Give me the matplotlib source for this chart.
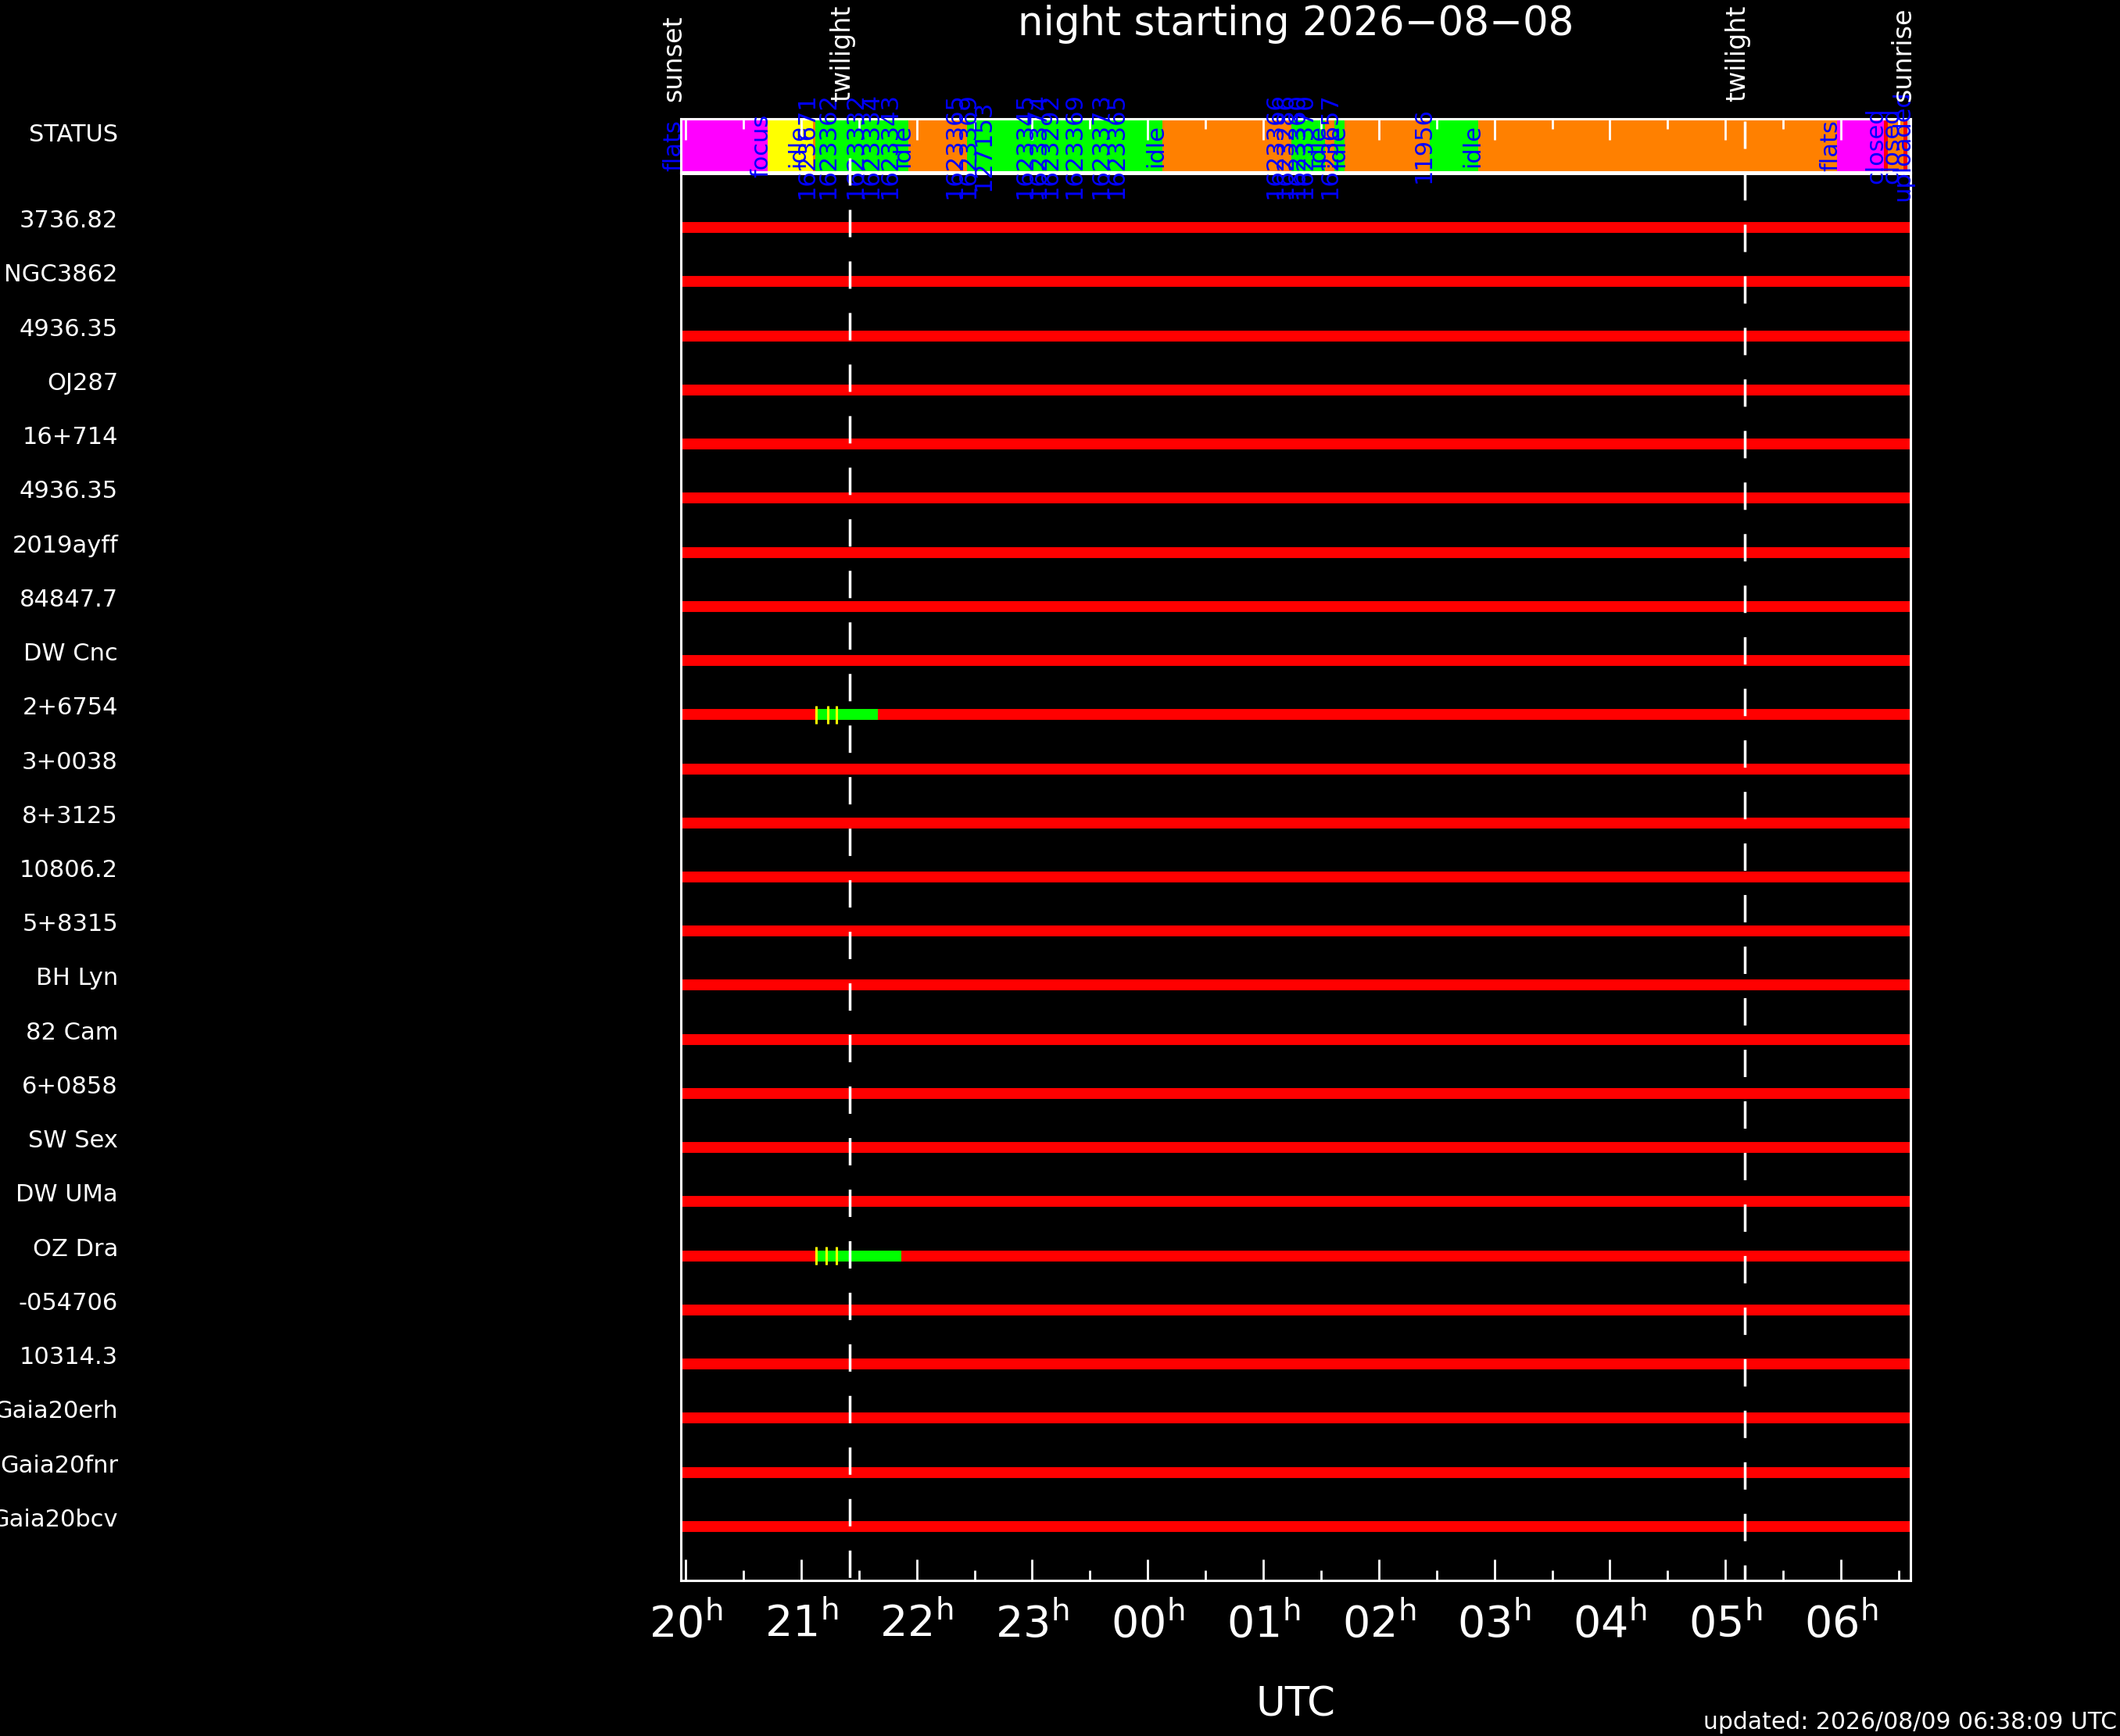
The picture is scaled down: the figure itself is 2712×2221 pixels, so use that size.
import matplotlib
matplotlib.use("Agg")
import matplotlib.pyplot as plt
from matplotlib.transforms import blended_transform_factory
from matplotlib.lines import Line2D
from matplotlib.ticker import FixedLocator

plt.rcParams['font.family'] = ['DejaVu Sans']
plt.rcParams['lines.scale_dashes'] = False

# ---------------- data ----------------
night_title = "night starting 2026\u221208\u221208"
updated_text = "updated: 2026/08/09 06:38:09 UTC"

# times in hours UTC (after midnight written as 24+)
sunset = 19.959
sunrise = 30.602
twilight_evening = 21.42
twilight_morning = 29.17

hour_ticks = [20, 21, 22, 23, 24, 25, 26, 27, 28, 29, 30]
hour_labels = ["20", "21", "22", "23", "00", "01", "02", "03", "04", "05", "06"]
half_hour_ticks = [20.5, 21.5, 22.5, 23.5, 24.5, 25.5, 26.5, 27.5, 28.5, 29.5, 30.5]

status_name = "STATUS"
targets = ["3736.82", "NGC3862", "4936.35", "OJ287", "16+714",
           "4936.35", "2019ayff", "84847.7", "DW Cnc", "2+6754",
           "3+0038", "8+3125", "10806.2", "5+8315", "BH Lyn",
           "82 Cam", "6+0858", "SW Sex", "DW UMa", "OZ Dra",
           "-054706", "10314.3", "Gaia20erh", "Gaia20fnr", "Gaia20bcv"]

# visibility window of every target (red)
vis_start = [sunset] * len(targets)
vis_end = [sunrise] * len(targets)

# observed intervals (green)
obs_row = [10, 20]
obs_start = [21.123, 21.123]
obs_end = [21.664, 21.867]

# individual exposures (yellow ticks)
exp_row = [10, 10, 10, 20, 20, 20]
exp_time = [21.130, 21.231, 21.306, 21.130, 21.218, 21.306]

# telescope status bar
status_start = [19.959, 20.710, 21.103, 21.123, 21.928, 22.436, 24.127, 25.244,
                25.535, 25.616, 25.704, 26.441, 26.861, 29.966, 30.372, 30.406,
                30.541, 30.575]
status_end = [20.710, 21.103, 21.123, 21.928, 22.436, 24.127, 25.244, 25.535,
              25.616, 25.704, 26.441, 26.861, 29.966, 30.372, 30.406, 30.541,
              30.575, 30.602]
status_state = ["flats", "focus", "idle", "observe", "idle", "observe", "idle",
                "observe", "idle", "observe", "idle", "observe", "idle", "flats",
                "closed", "idle", "closed", "upload"]
state_colors = {"flats": "#ff00ff", "focus": "#ffff00", "idle": "#ff8000",
                "observe": "#00ff00", "closed": "#ff0000", "upload": "#c0c0c0"}

status_label_time = [19.955, 20.710, 21.028, 21.110, 21.292, 21.529, 21.664,
                     21.827, 21.935, 22.388, 22.503, 22.639, 22.997, 23.112,
                     23.214, 23.424, 23.654, 23.789, 24.127, 25.162, 25.250,
                     25.352, 25.420, 25.528, 25.636, 25.697, 26.448, 26.867,
                     29.966, 30.359, 30.494, 30.589]
status_label_text = ["flats", "focus", "idle", "1623671", "1623362", "1623332",
                     "1623334", "1623343", "idle", "1623365", "1623369", "127153",
                     "1623345", "1623374", "1623292", "1623369", "1623373",
                     "1623365", "idle", "1623366", "1623286", "1623360",
                     "1623370", "idle", "1623657", "idle", "11956", "idle",
                     "flats", "closed", "closed", "uploaded"]

# ---------------- figure ----------------
W, H = 2712, 2221
fig = plt.figure(figsize=(W / 100, H / 100), dpi=100, facecolor="black")

ax = fig.add_axes([871 / W, 1 - 2022 / H, (2444 - 871) / W, 1800 / H], facecolor="black")
axs = fig.add_axes([871 / W, 1 - 220 / H, (2444 - 871) / W, 68 / H], facecolor="black")

for a in (ax, axs):
    a.set_xlim(sunset, sunrise)
    for sp in a.spines.values():
        sp.set_color("white")
        sp.set_linewidth(2.2)
    a.set_yticks([])
    a.xaxis.set_major_locator(FixedLocator(hour_ticks))
    a.xaxis.set_minor_locator(FixedLocator(half_hour_ticks))

# main axes
n = len(targets)
rows = list(range(1, n + 1))
ax.set_ylim(n + 1, 0)
ax.hlines(rows, vis_start, vis_end, colors="#ff0000", linewidth=10, zorder=2)
ax.hlines(obs_row, obs_start, obs_end, colors="#00ff00", linewidth=10, zorder=3)
ax.vlines(exp_time, [r - 0.17 for r in exp_row], [r + 0.17 for r in exp_row],
          colors="#ffff00", linewidth=2.2, zorder=4)

ax.xaxis.set_ticklabels(["$\\mathregular{" + l + "^h}$" for l in hour_labels])
ax.tick_params(axis="x", which="major", direction="in", length=19.4, width=2,
               color="white", bottom=True, top=False, labelsize=40,
               labelcolor="white", pad=20)
ax.tick_params(axis="x", which="minor", direction="in", length=9.4, width=2,
               color="white", bottom=True, top=False)
ax.set_xlabel("UTC", color="white", fontsize=37, labelpad=36)

# row labels
tr_rows = blended_transform_factory(fig.transFigure, ax.transData)
for r, name in zip(rows, targets):
    ax.text(151 / W, r, name, transform=tr_rows, ha="right", va="baseline",
            color="white", fontsize=22)

# status bar
axs.set_ylim(0, 1)
axs.broken_barh([(s, e - s) for s, e in zip(status_start, status_end)], (0, 1),
                facecolors=[state_colors[s] for s in status_state], zorder=1)
axs.tick_params(axis="x", which="major", direction="in", length=19.4, width=2,
                color="white", bottom=False, top=True, labelbottom=False,
                labeltop=False)
axs.tick_params(axis="x", which="minor", direction="in", length=9.4, width=2,
                color="white", bottom=False, top=True)
for t, s in zip(status_label_time, status_label_text):
    axs.text(t, 0.5, s, rotation=90, rotation_mode="anchor", ha="center",
             va="baseline", color="#0000ff", fontsize=22, clip_on=False, zorder=5)

tr_status = blended_transform_factory(fig.transFigure, axs.transAxes)
fig.text(151 / W, 0.57, status_name, transform=tr_status, ha="right", va="baseline",
         color="white", fontsize=22)

# sunset / twilight / sunrise markers
tr_top = blended_transform_factory(ax.transData, fig.transFigure)
for t, s in [(sunset, "sunset"), (twilight_evening, "twilight"),
             (twilight_morning, "twilight"), (sunrise, "sunrise")]:
    fig.text(t, 1 - 130 / H, s, transform=tr_top, rotation=90, rotation_mode="anchor",
             ha="left", va="baseline", color="white", fontsize=24)

for t, ytop in [(twilight_evening, 202), (twilight_morning, 155)]:
    fig.add_artist(Line2D([t, t], [1 - ytop / H, 1 - 2022 / H], transform=tr_top,
                          color="white", linewidth=2.5,
                          linestyle=(0, (25.2, 22.3)), zorder=6))

fig.text(0.6112, 1 - 31 / H, night_title, ha="center", va="center", color="white",
         fontsize=37)
fig.text(2708 / W, 1 - 2203 / H, updated_text, ha="right", va="center",
         color="white", fontsize=21.5)

fig.savefig("out.png", dpi=100, facecolor="black")
